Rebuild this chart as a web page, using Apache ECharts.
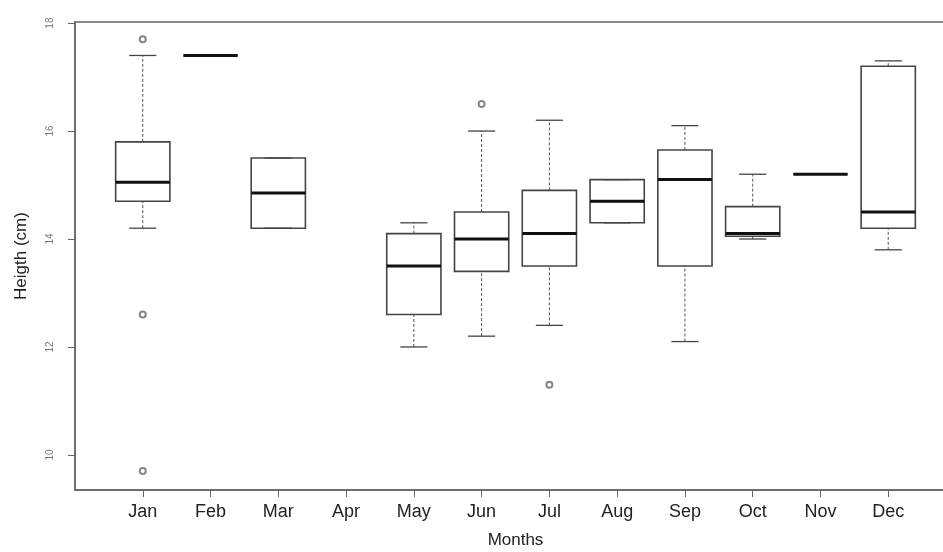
<!DOCTYPE html>
<html>
<head>
    <meta charset="utf-8">
    <title>Heigth by month</title>
    <script src="https://cdn.jsdelivr.net/npm/echarts@6/dist/echarts.min.js"></script>
    <style>
        html, body { margin: 0; padding: 0; background: #fff; }
    </style>
</head>
<body>
<div id="main" style="width: 943px;height:552px;"></div>
<script type="text/javascript">
    // months on the x axis (Apr has no samples)
    var months = ['Jan', 'Feb', 'Mar', 'Apr', 'May', 'Jun', 'Jul', 'Aug', 'Sep', 'Oct', 'Nov', 'Dec'];

    // box statistics
    var lowWhisker = [14.2, 17.4, 14.2, null, 12.0, 12.2, 12.4, 14.3, 12.1, 14.0, 15.2, 13.8];
    var q1         = [14.7, 17.4, 14.2, null, 12.6, 13.4, 13.5, 14.3, 13.5, 14.05, 15.2, 14.2];
    var median     = [15.05, 17.4, 14.85, null, 13.5, 14.0, 14.1, 14.7, 15.1, 14.1, 15.2, 14.5];
    var q3         = [15.8, 17.4, 15.5, null, 14.1, 14.5, 14.9, 15.1, 15.65, 14.6, 15.2, 17.2];
    var highWhisker= [17.4, 17.4, 15.5, null, 14.3, 16.0, 16.2, 15.1, 16.1, 15.2, 15.2, 17.3];

    // outliers: month index (1-based) and value
    var outlierMonth = [1, 1, 1, 6, 7];
    var outlierValue = [17.7, 12.6, 9.7, 16.5, 11.3];

    var yTicks = [10, 12, 14, 16, 18];
    var xTicks = [1, 2, 3, 4, 5, 6, 7, 8, 9, 10, 11, 12];

    var boxData = [];
    for (var i = 0; i < months.length; i++) {
        if (median[i] == null) continue;
        boxData.push([i + 1, lowWhisker[i], q1[i], median[i], q3[i], highWhisker[i]]);
    }
    var outData = outlierMonth.map(function (m, k) { return [m, outlierValue[k]]; });

    var myChart = echarts.init(document.getElementById('main'));

    function renderBox(params, api) {
        var x = api.value(0);
        var pLow = api.coord([x, api.value(1)]);
        var pQ1 = api.coord([x, api.value(2)]);
        var pMed = api.coord([x, api.value(3)]);
        var pQ3 = api.coord([x, api.value(4)]);
        var pHigh = api.coord([x, api.value(5)]);
        var half = api.size([0.4, 0])[0];
        var cap = api.size([0.2, 0])[0];
        var cx = pMed[0];
        var dashStyle = { stroke: '#555', lineWidth: 1, lineDash: [3, 2] };
        var solid = { stroke: '#444', lineWidth: 1.3 };
        return {
            type: 'group',
            children: [
                { type: 'line', shape: { x1: cx, y1: pQ3[1], x2: cx, y2: pHigh[1] }, style: dashStyle },
                { type: 'line', shape: { x1: cx, y1: pLow[1], x2: cx, y2: pQ1[1] }, style: dashStyle },
                { type: 'line', shape: { x1: cx - cap, y1: pHigh[1], x2: cx + cap, y2: pHigh[1] }, style: solid },
                { type: 'line', shape: { x1: cx - cap, y1: pLow[1], x2: cx + cap, y2: pLow[1] }, style: solid },
                { type: 'rect', shape: { x: cx - half, y: pQ3[1], width: half * 2, height: pQ1[1] - pQ3[1] },
                  style: { fill: 'none', stroke: '#444', lineWidth: 1.6 } },
                { type: 'line', shape: { x1: cx - half, y1: pMed[1], x2: cx + half, y2: pMed[1] },
                  style: { stroke: '#111', lineWidth: 3 } }
            ]
        };
    }

    var option = {
        animation: false,
        backgroundColor: '#fff',
        grid: {
            left: 75, top: 22, width: 881, height: 468,
            outerBoundsMode: 'none', containLabel: false,
            show: true, borderColor: '#666', borderWidth: 1.5, backgroundColor: 'transparent'
        },
        xAxis: {
            type: 'value', min: 0, max: 13, interval: 1,
            name: 'Months', nameLocation: 'middle', nameGap: 42,
            nameTextStyle: { fontFamily: 'Liberation Sans', fontSize: 17, color: '#222' },
            axisLine: { show: true, onZero: false, lineStyle: { color: '#666', width: 1.5 } },
            axisTick: { show: true, customValues: xTicks, length: 7, lineStyle: { color: '#666' } },
            axisLabel: {
                customValues: xTicks, margin: 13,
                fontFamily: 'Liberation Sans', fontSize: 18, color: '#222',
                formatter: function (v) { return months[v - 1] || ''; }
            },
            splitLine: { show: false }
        },
        yAxis: {
            type: 'value', min: 9.35, max: 18.02,
            name: 'Heigth (cm)', nameLocation: 'middle', nameGap: 45,
            nameTextStyle: { fontFamily: 'Liberation Sans', fontSize: 17, color: '#222' },
            axisLine: { show: true, lineStyle: { color: '#666', width: 1.5 } },
            axisTick: { show: true, customValues: yTicks, length: 7, lineStyle: { color: '#666' } },
            axisLabel: {
                customValues: yTicks, rotate: 90, margin: 20,
                fontFamily: 'Liberation Sans', fontSize: 10, color: '#777'
            },
            splitLine: { show: false }
        },
        series: [
            {
                type: 'custom',
                renderItem: renderBox,
                encode: { x: 0, y: [1, 2, 3, 4, 5] },
                data: boxData
            },
            {
                type: 'scatter',
                symbol: 'emptyCircle',
                symbolSize: 6,
                itemStyle: { color: '#666', borderColor: '#666', borderWidth: 1 },
                data: outData
            }
        ]
    };

    myChart.setOption(option);
</script>
</body>
</html>
